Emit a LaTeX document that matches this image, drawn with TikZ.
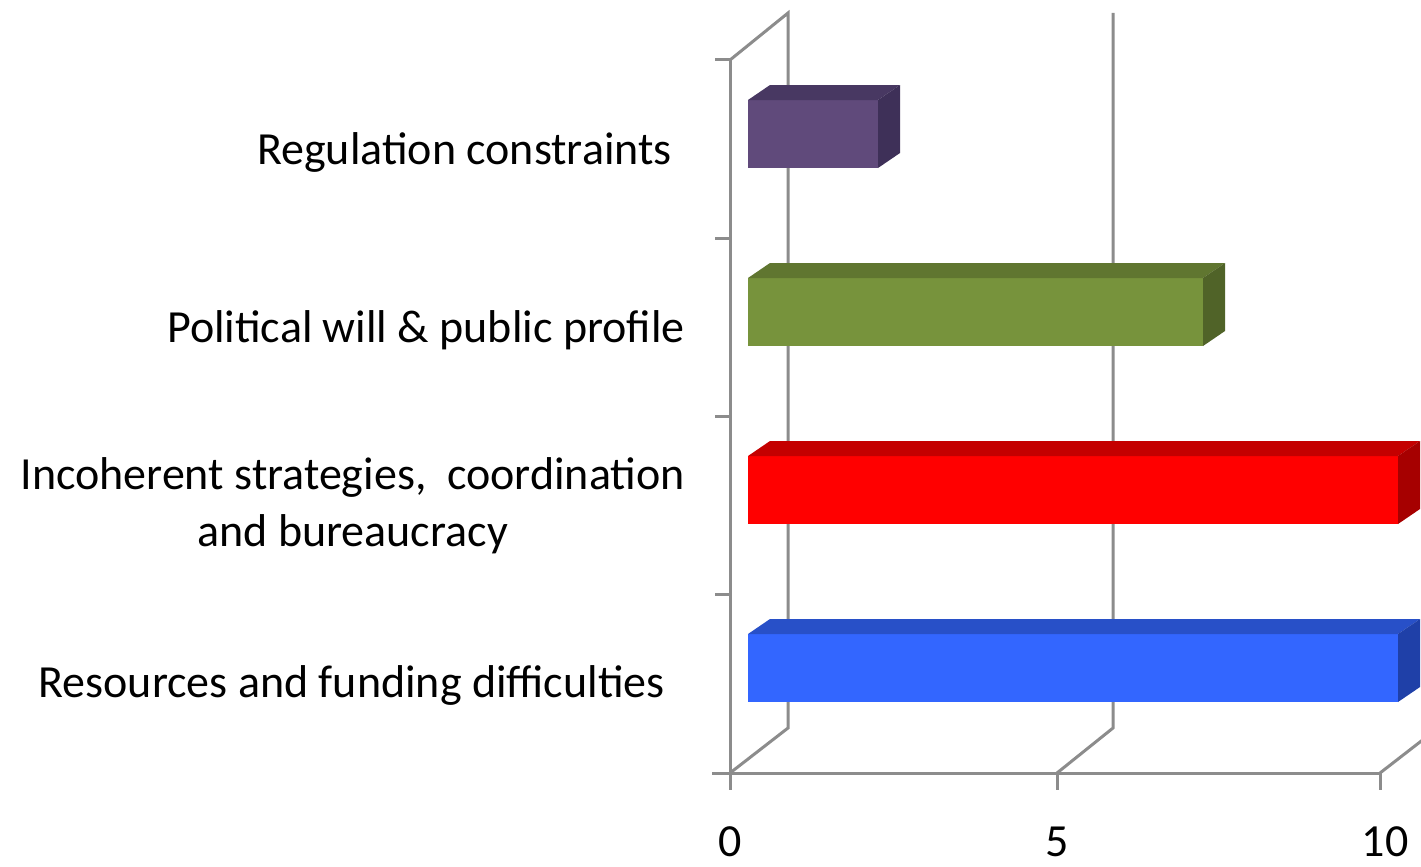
\documentclass[tikz,border=0pt]{standalone}
\usepackage{fontspec}
\setmainfont{Carlito}
\definecolor{gridgray}{RGB}{140,140,140}
\definecolor{purplefront}{RGB}{96,74,123}
\definecolor{purpletop}{RGB}{72,56,98}
\definecolor{purpleside}{RGB}{62,48,88}
\definecolor{greenfront}{RGB}{119,147,60}
\definecolor{greentop}{RGB}{96,118,48}
\definecolor{greenside}{RGB}{80,99,40}
\definecolor{redfront}{RGB}{255,0,0}
\definecolor{redtop}{RGB}{196,0,0}
\definecolor{redside}{RGB}{166,0,0}
\definecolor{bluefront}{RGB}{51,102,255}
\definecolor{bluetop}{RGB}{40,80,200}
\definecolor{blueside}{RGB}{31,64,168}
% bar: #1 value, #2 top of front face, #3 colour prefix
\newcommand{\chartbar}[3]{%
  \fill[#3front] (748,#2) rectangle ({748+65*#1},#2+68);
  \fill[#3top] (748,#2) -- (770,#2-15) -- ({770+65*#1},#2-15) -- ({748+65*#1},#2) -- cycle;
  \fill[#3side] ({748+65*#1},#2) -- ({770+65*#1},#2-15) -- ({770+65*#1},#2+53) -- ({748+65*#1},#2+68) -- cycle;
}
\begin{document}
\begin{tikzpicture}[x=1pt,y=-1pt,font=\fontsize{46}{57}\selectfont]
\useasboundingbox (0,0) rectangle (1421,867);
\begin{scope}
\clip (0,0) rectangle (1421,867);
% walls and grid
\draw[gridgray, line width=3pt] (730,60) -- (788,13) -- (788,728) -- (730,773);
\draw[gridgray, line width=3pt] (1113,13) -- (1113,728) -- (1057,773);
\draw[gridgray, line width=3pt] (1380,773) -- (1438,728);
\draw[gridgray, line width=3pt] (730,60) -- (730,773);
\draw[gridgray, line width=3pt] (712,773) -- (1380,773);
\foreach \y in {60,238,416,594,773}
  \draw[gridgray, line width=3pt] (715,\y) -- (730,\y);
\foreach \x in {730,1057,1380}
  \draw[gridgray, line width=3pt] (\x,773) -- (\x,790);
% bars
\chartbar{2}{100}{purple}
\chartbar{7}{278}{green}
\chartbar{10}{456}{red}
\chartbar{10}{634}{blue}
\end{scope}
% category labels
\node[anchor=east, inner sep=0pt] (reglabel) at (672,152) {Regulation constraints};
\node[anchor=east, inner sep=0pt] (pollabel) at (685,330) {Political will \& public profile};
\node[anchor=east, inner sep=0pt, align=center] (inclabel) at (685,506) {Incoherent strategies,~ coordination\\and bureaucracy};
\node[anchor=east, inner sep=0pt] (reslabel) at (665,685) {Resources and funding difficulties};
% value labels
\node[anchor=base, inner sep=0pt] (zerolabel) at (730,856) {0};
\node[anchor=base, inner sep=0pt] (fivelabel) at (1057,856) {5};
\node[anchor=base, inner sep=0pt] (tenlabel) at (1385,856) {10};
\end{tikzpicture}
\end{document}
